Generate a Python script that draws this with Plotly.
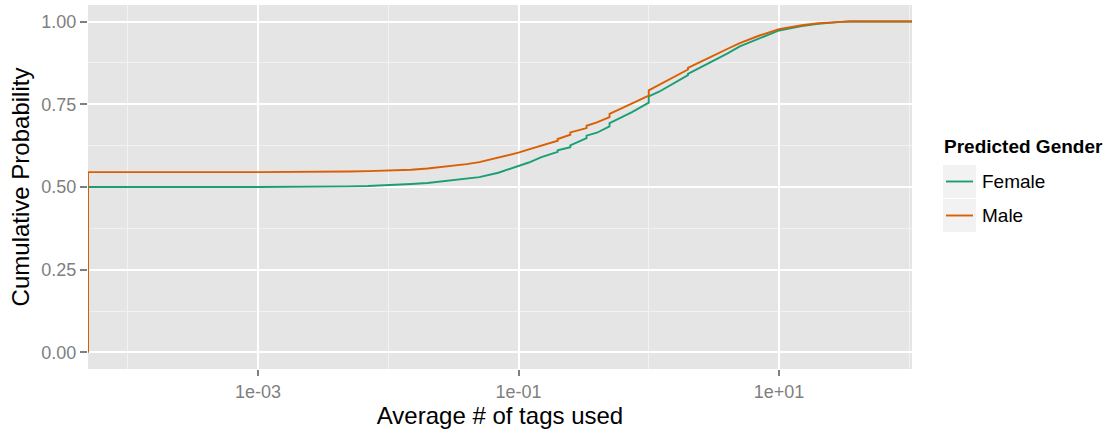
import plotly.graph_objects as go

# ---- data ----
# duplicated x values mark visible ECDF jumps
female_x = [0.001, 0.002, 0.003, 0.005, 0.007, 0.01, 0.015, 0.02, 0.03, 0.04, 0.05, 0.07, 0.1, 0.12,
            0.15, 0.2, 0.2, 0.25, 0.25, 0.333, 0.333, 0.4, 0.5, 0.5, 0.6, 0.75, 1, 1, 1.2, 1.5,
            2, 2, 2.5, 3, 4, 5, 7, 10, 15, 20, 30, 35]
female_y = [0.500, 0.500, 0.501, 0.502, 0.503, 0.505, 0.509, 0.512, 0.519, 0.525, 0.530, 0.543, 0.562, 0.574,
            0.590, 0.606, 0.611, 0.620, 0.626, 0.648, 0.655, 0.664, 0.683, 0.693, 0.708, 0.727, 0.755, 0.774,
            0.788, 0.810, 0.838, 0.842, 0.861, 0.876, 0.903, 0.925, 0.948, 0.973, 0.986, 0.993, 0.999, 1.000]
male_x = female_x
male_y = [0.545, 0.545, 0.546, 0.547, 0.548, 0.549, 0.552, 0.556, 0.563, 0.569, 0.575, 0.588, 0.604, 0.614,
          0.626, 0.640, 0.645, 0.658, 0.665, 0.678, 0.685, 0.695, 0.711, 0.721, 0.735, 0.752, 0.776, 0.792,
          0.808, 0.830, 0.855, 0.860, 0.877, 0.893, 0.917, 0.935, 0.957, 0.977, 0.989, 0.995, 0.999, 1.000]
female_zero_share = 0.500
male_zero_share = 0.545

series_names = ["Female", "Male"]
legend_title = "Predicted Gender"

x_tickvals = [0.001, 0.1, 10]
x_ticktext = ["1e-03", "1e-01", "1e+01"]
x_minor = [0.0001, 0.01, 1, 100]
y_tickvals = [0, 0.25, 0.5, 0.75, 1.0]
y_minor = [0.125, 0.375, 0.625, 0.875]

XRANGE = [-4.305, 2.021]
YRANGE = [-0.05, 1.05]

left_edge = 10 ** XRANGE[0]
right_edge = 10 ** XRANGE[1]

COLORS = ["#1B9E77", "#D95F02"]
FONT = "Liberation Sans, Arial, sans-serif"

# plot-area geometry (pixels) used to place legend decorations
ML, MR, MT, MB, W, H = 88, 198, 5, 66, 1110, 435
PW, PH = W - ML - MR, H - MT - MB


def px_to_paper_x(px):
    return (px - ML) / PW


def py_to_paper_y(py):
    return (H - MB - py) / PH


fig = go.Figure()
for name, xs, ys, z, col in [(series_names[0], female_x, female_y, female_zero_share, COLORS[0]),
                             (series_names[1], male_x, male_y, male_zero_share, COLORS[1])]:
    fx = [left_edge, left_edge] + xs + [right_edge]
    fy = [0, z] + ys + [1.0]
    fig.add_trace(go.Scatter(x=fx, y=fy, mode="lines", name=name, showlegend=False,
                             line=dict(color=col, width=1.9)))

fig.update_layout(
    width=W, height=H,
    margin=dict(l=ML, r=MR, t=MT, b=MB),
    paper_bgcolor="white",
    plot_bgcolor="#E5E5E5",
    font=dict(family=FONT, color="black"),
    showlegend=False,
    xaxis=dict(
        type="log", range=XRANGE,
        tickmode="array", tickvals=x_tickvals, ticktext=x_ticktext,
        showgrid=True, gridcolor="white", gridwidth=2,
        ticks="outside", ticklen=6, tickwidth=1.5, tickcolor="#7F7F7F",
        tickfont=dict(size=18, color="#7F7F7F"),
        zeroline=False, showline=False,
        minor=dict(tickmode="array", tickvals=x_minor, showgrid=True,
                   gridcolor="#F2F2F2", gridwidth=1, ticks=""),
        title=dict(text="Average # of tags used", font=dict(size=24, color="black"), standoff=4),
    ),
    yaxis=dict(
        range=YRANGE,
        tickmode="array", tickvals=y_tickvals, tickformat=".2f",
        showgrid=True, gridcolor="white", gridwidth=2,
        ticks="outside", ticklen=7, tickwidth=1.5, tickcolor="#7F7F7F",
        tickfont=dict(size=18, color="#7F7F7F"),
        zeroline=False, showline=False,
        minor=dict(tickmode="array", tickvals=y_minor, showgrid=True,
                   gridcolor="#F2F2F2", gridwidth=1, ticks=""),
        title=dict(text="Cumulative Probability", font=dict(size=24, color="black"), standoff=4),
    ),
)

# ggplot-style legend drawn with shapes + annotations
fig.add_annotation(x=px_to_paper_x(942), y=py_to_paper_y(147), xref="paper", yref="paper",
                   text="<b>" + legend_title + "</b>", showarrow=False,
                   xanchor="left", yanchor="middle", font=dict(size=19, color="black"))
for i, (name, col) in enumerate(zip(series_names, COLORS)):
    top = 165 + 34 * i
    mid = top + 16.5
    fig.add_shape(type="rect", xref="paper", yref="paper",
                  x0=px_to_paper_x(943), x1=px_to_paper_x(976),
                  y0=py_to_paper_y(top + 33), y1=py_to_paper_y(top),
                  fillcolor="#F2F2F2", line=dict(width=0), layer="below")
    fig.add_shape(type="line", xref="paper", yref="paper",
                  x0=px_to_paper_x(946), x1=px_to_paper_x(973),
                  y0=py_to_paper_y(mid), y1=py_to_paper_y(mid),
                  line=dict(color=col, width=1.9))
    fig.add_annotation(x=px_to_paper_x(980), y=py_to_paper_y(mid), xref="paper", yref="paper",
                       text=name, showarrow=False, xanchor="left", yanchor="middle",
                       font=dict(size=19, color="black"))

fig.write_html("out.html")
